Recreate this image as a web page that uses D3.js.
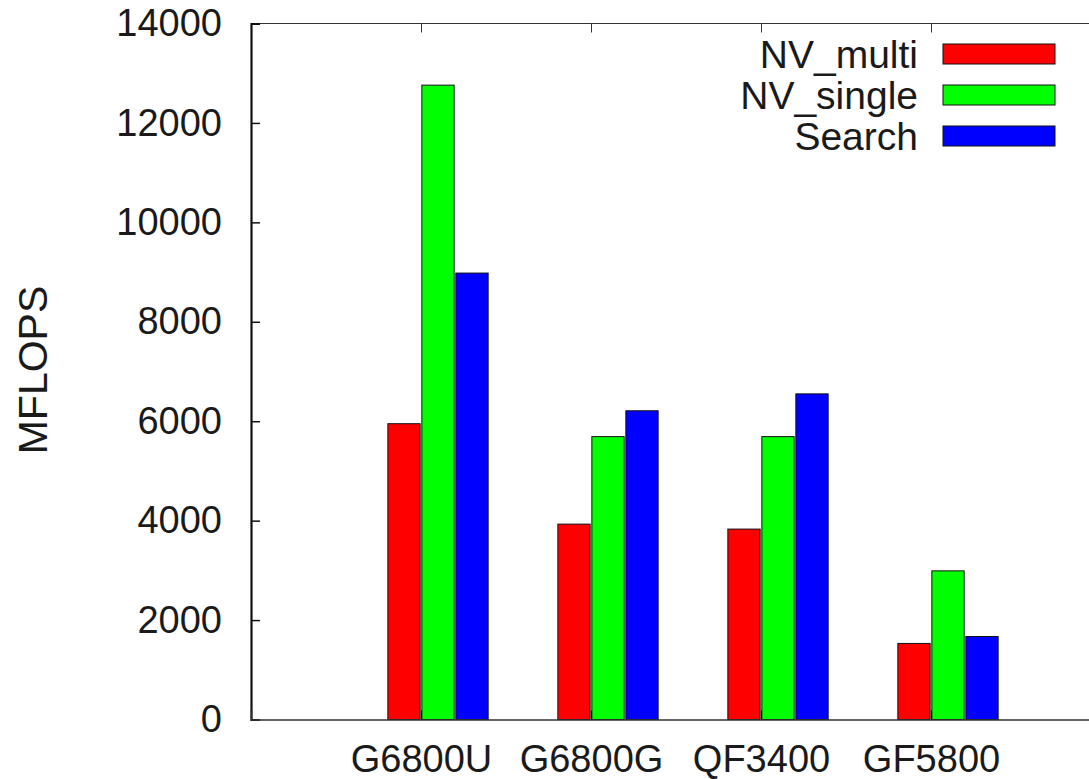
<!DOCTYPE html>
<html>
<head>
<meta charset="utf-8">
<script src="https://cdn.jsdelivr.net/npm/d3@7"></script>
<style>
  html, body { margin: 0; padding: 0; background: #fff; }
  svg { display: block; }
  text { font-family: "Liberation Sans", Arial, Helvetica, sans-serif; fill: #111; }
</style>
</head>
<body>
<svg id="chart" width="1089" height="779"></svg>
<script>
// GPU kernels benchmarked, in cluster order
const categories = ["G6800U", "G6800G", "QF3400", "GF5800"];
// Series names shown in the key
const seriesNames = ["NV_multi", "NV_single", "Search"];
// Measured throughput per series (MFLOPS), one value per category
const nvMulti  = [5950, 3930, 3830, 1530];
const nvSingle = [12760, 5690, 5690, 2990];
const search   = [8980, 6210, 6550, 1670];
// Y-axis tick values
const yTicks = [0, 2000, 4000, 6000, 8000, 10000, 12000, 14000];

const seriesValues = [nvMulti, nvSingle, search];
const colors = ["#ff0000", "#00ff00", "#0000ff"];
// cluster layout (in category units): bar centre offsets and bar width
const barOffsets = [-0.1, 0.1, 0.3];
const barWidth = 0.19;

const svg = d3.select("#chart");
const plotLeft = 251, plotRight = 1101, plotTop = 23.5, plotBottom = 719.5;

const x = d3.scaleLinear().domain([-1, 4]).range([plotLeft, plotRight]);
const y = d3.scaleLinear().domain([0, 14000]).range([plotBottom, plotTop]);

// frame: top border
svg.append("line")
  .attr("x1", plotLeft).attr("x2", plotRight)
  .attr("y1", plotTop).attr("y2", plotTop)
  .attr("stroke", "#333").attr("stroke-width", 1.2);

// bars
const bars = [];
categories.forEach((c, ci) => {
  seriesValues.forEach((vals, si) => {
    bars.push({ ci, si, v: vals[ci] });
  });
});
svg.append("g").selectAll("rect")
  .data(bars)
  .join("rect")
  .attr("x", d => x(d.ci + barOffsets[d.si] - barWidth / 2))
  .attr("width", d => x(barWidth) - x(0))
  .attr("y", d => y(d.v))
  .attr("height", d => y(0) - y(d.v))
  .attr("fill", d => colors[d.si])
  .attr("stroke", "#111")
  .attr("stroke-width", 1);

// y axis (ticks point inward)
const yAxis = d3.axisLeft(y).tickValues(yTicks).tickSize(-9).tickPadding(29)
  .tickFormat(d3.format("d"));
const gy = svg.append("g").attr("transform", `translate(${plotLeft},0)`).call(yAxis);
gy.select(".domain").attr("stroke", "#111").attr("stroke-width", 2.2);
gy.selectAll(".tick line").attr("stroke", "#111").attr("stroke-width", 1.5);
gy.selectAll(".tick text").attr("font-size", 38).style("fill", "#1a1a1a")
  .attr("font-family", "Liberation Sans, Arial, sans-serif");

// x axis (labels under the tick, ticks inward)
const xAxis = d3.axisBottom(x).tickValues(d3.range(categories.length)).tickSize(-9)
  .tickPadding(26).tickFormat(i => categories[i]);
const gx = svg.append("g").attr("transform", `translate(0,${plotBottom})`).call(xAxis);
gx.select(".domain").attr("stroke", "#333").attr("stroke-width", 1.6);
gx.selectAll(".tick line").attr("stroke", "#111").attr("stroke-width", 1);
gx.selectAll(".tick text").attr("font-size", 38).style("fill", "#1a1a1a")
  .attr("font-family", "Liberation Sans, Arial, sans-serif");

// mirrored x ticks on the top border
const xTop = d3.axisTop(x).tickValues(d3.range(categories.length)).tickSize(-9).tickFormat("");
const gxt = svg.append("g").attr("transform", `translate(0,${plotTop})`).call(xTop);
gxt.select(".domain").remove();
gxt.selectAll(".tick line").attr("stroke", "#333").attr("stroke-width", 1);

// y-axis title
svg.append("text")
  .attr("transform", `translate(47,370) rotate(-90)`)
  .attr("text-anchor", "middle")
  .attr("font-size", 41)
  .style("fill", "#1a1a1a")
  .text("MFLOPS");

// key
const key = svg.append("g");
seriesNames.forEach((name, i) => {
  const cy = 54 + i * 41;
  key.append("text")
    .attr("x", 918).attr("y", cy + 14)
    .attr("text-anchor", "end")
    .attr("font-size", 39)
    .style("fill", "#1a1a1a")
    .text(name);
  key.append("rect")
    .attr("x", 943).attr("y", cy - 10)
    .attr("width", 112).attr("height", 20)
    .attr("fill", colors[i])
    .attr("stroke", "#111").attr("stroke-width", 1);
});
</script>
</body>
</html>
